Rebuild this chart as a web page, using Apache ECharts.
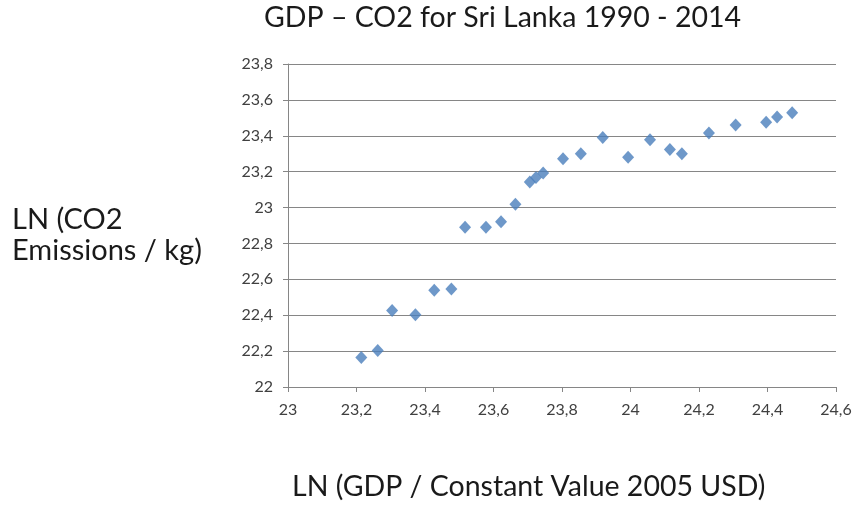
<!DOCTYPE html>
<html>
<head>
<meta charset="utf-8">
<script src="https://cdn.jsdelivr.net/npm/echarts@6/dist/echarts.min.js"></script>
<style>
  html, body { margin: 0; padding: 0; background: #fff; }
  #chart { width: 858px; height: 516px; }
</style>
</head>
<body>
<div id="chart"></div>
<script>
// Sri Lanka, 1990 - 2014: natural logs of GDP and CO2 emissions
const years = [1990,1991,1992,1993,1994,1995,1996,1997,1998,1999,2000,2001,2002,
               2003,2004,2005,2006,2007,2008,2009,2010,2011,2012,2013,2014];
const lnGdp = [23.214,23.262,23.304,23.372,23.427,23.477,23.517,23.578,23.622,23.664,
               23.706,23.724,23.745,23.803,23.855,23.919,23.993,24.057,24.115,24.150,
               24.229,24.307,24.396,24.428,24.472];
const lnCo2 = [22.164,22.204,22.427,22.403,22.539,22.546,22.890,22.890,22.921,23.018,
               23.142,23.167,23.192,23.272,23.300,23.391,23.280,23.378,23.324,23.300,
               23.415,23.460,23.475,23.504,23.529];

const xTicks = [23, 23.2, 23.4, 23.6, 23.8, 24, 24.2, 24.4, 24.6];
const yTicks = [22, 22.2, 22.4, 22.6, 22.8, 23, 23.2, 23.4, 23.6, 23.8];

const titleText = 'GDP \u2013 CO2 for Sri Lanka 1990 - 2014';
const xTitle = 'LN (GDP / Constant Value 2005 USD)';
const yTitleLines = ['LN (CO2', 'Emissions / kg)'];

const fontFam = 'Lato, "Open Sans", sans-serif';
const fmt = v => String(Math.round(v * 10) / 10).replace('.', ',');

const chart = echarts.init(document.getElementById('chart'), null, { renderer: 'canvas' });
chart.setOption({
  backgroundColor: '#ffffff',
  animation: false,
  graphic: [
    {
      type: 'text', left: 264, top: 3,
      style: { text: titleText, fontFamily: fontFam, fontSize: 28.5, fill: '#1a1a1a' }
    },
    {
      type: 'text', left: 12, top: 204,
      style: { text: yTitleLines.join('\n'), fontFamily: fontFam, fontSize: 29,
               lineHeight: 31, fill: '#1a1a1a' }
    },
    {
      type: 'text', left: 292, top: 472,
      style: { text: xTitle, fontFamily: fontFam, fontSize: 28.5, fill: '#1a1a1a' }
    }
  ],
  grid: { left: 288, right: 22, top: 64, bottom: 129, containLabel: false },
  xAxis: {
    type: 'value',
    min: xTicks[0], max: xTicks[xTicks.length - 1], interval: 0.2,
    axisLine: { show: true, lineStyle: { color: '#868686', width: 1 } },
    axisTick: { show: true, length: 5, lineStyle: { color: '#868686' } },
    splitLine: { show: false },
    axisLabel: { formatter: fmt, margin: 15, fontFamily: fontFam, fontSize: 16, color: '#404040' }
  },
  yAxis: {
    type: 'value',
    min: yTicks[0], max: yTicks[yTicks.length - 1], interval: 0.2,
    axisLine: { show: true, lineStyle: { color: '#868686', width: 1 } },
    axisTick: { show: true, length: 5, lineStyle: { color: '#868686' } },
    splitLine: { show: true, lineStyle: { color: '#868686', width: 1 } },
    axisLabel: { formatter: fmt, margin: 15, fontFamily: fontFam, fontSize: 16, color: '#404040' }
  },
  series: [{
    type: 'scatter',
    name: 'GDP - CO2',
    symbol: 'diamond',
    symbolSize: [12, 13],
    itemStyle: { color: '#4a7ebb' },
    data: years.map((y, i) => [lnGdp[i], lnCo2[i]])
  }]
});
</script>
</body>
</html>
